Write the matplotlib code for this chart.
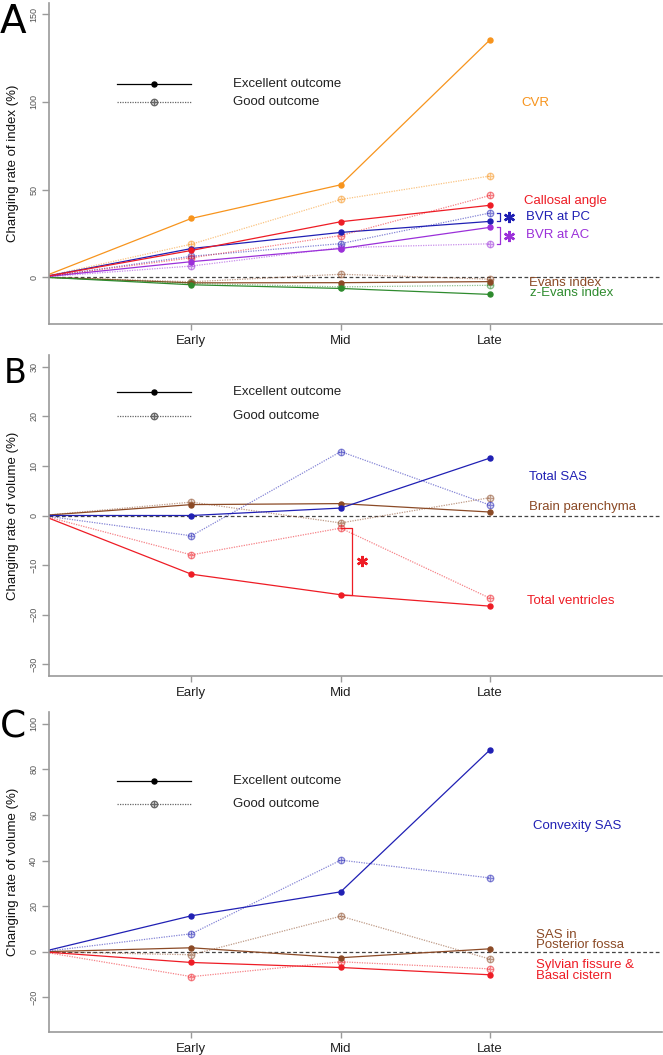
import matplotlib
matplotlib.use("Agg")
import matplotlib.pyplot as plt

plt.rcParams['font.family'] = ['Liberation Sans', 'DejaVu Sans']

# ---------------- data ----------------
stages = ["Early", "Mid", "Late"]
stage_x = [1, 2, 3]
baseline_x = 0
baseline_y = 0

# Panel A : changing rate of index (%)
cvr_exc = [33.5, 52.7, 135.5]
cvr_good = [18.8, 44.3, 57.7]
callosal_exc = [15.2, 31.6, 41.0]
callosal_good = [11.0, 23.7, 46.6]
bvrpc_exc = [16.3, 25.5, 31.8]
bvrpc_good = [11.9, 19.1, 36.6]
bvrac_exc = [8.8, 16.3, 28.4]
bvrac_good = [6.3, 16.8, 19.0]
evans_exc = [-3.3, -3.2, -2.6]
evans_good = [-2.7, 1.6, -1.2]
zevans_exc = [-4.4, -6.5, -9.9]
zevans_good = [-3.6, -5.6, -4.7]

# Panel B : changing rate of volume (%)
sas_exc = [0.0, 1.5, 11.6]
sas_good = [-4.1, 12.9, 2.1]
brain_exc = [2.2, 2.4, 0.7]
brain_good = [2.7, -1.5, 3.6]
vent_exc = [-11.85, -16.0, -18.3]
vent_good = [-7.95, -2.55, -16.7]

# Panel C : changing rate of volume (%)
conv_exc = [15.8, 26.3, 88.6]
conv_good = [7.9, 40.2, 32.4]
pf_exc = [1.75, -2.6, 1.3]
pf_good = [-1.3, 15.6, -3.2]
syl_exc = [-4.7, -6.9, -10.1]
syl_good = [-10.9, -4.4, -7.5]

yticks_A = [0, 50, 100, 150]
yticks_B = [-30, -20, -10, 0, 10, 20, 30]
yticks_C = [-20, 0, 20, 40, 60, 80, 100]

ylabel_A = "Changing rate of index (%)"
ylabel_BC = "Changing rate of volume (%)"

# ---------------- styles ----------------
ORANGE = '#F7941D'
RED = '#EE1C25'
BLUE = '#2020B4'
PURPLE = '#9B30D9'
BROWN = '#8B4A26'
GREEN = '#2E8B2E'
AXGRAY = '#9a9a9a'
GOOD_ALPHA = 0.55

W, H = 663, 1055
fig = plt.figure(figsize=(W / 100, H / 100), dpi=100)

LEFT_PX, RIGHT_PX = 49.3, 662


def add_ax(top_px, bottom_px):
    return fig.add_axes([LEFT_PX / W, 1 - bottom_px / H,
                         (RIGHT_PX - LEFT_PX) / W, (bottom_px - top_px) / H])


def style_ax(ax, ylim, yticks, ylabel):
    ax.set_xlim(0.048, 4.152)
    ax.set_ylim(*ylim)
    for s in ('top', 'right'):
        ax.spines[s].set_visible(False)
    for s in ('left', 'bottom'):
        ax.spines[s].set_color(AXGRAY)
        ax.spines[s].set_linewidth(1.2)
    ax.set_xticks(stage_x)
    ax.set_xticklabels(stages)
    ax.set_yticks(yticks)
    ax.tick_params(axis='x', length=4, width=1, color=AXGRAY, labelsize=9.5,
                   pad=4, labelcolor='#222222')
    ax.tick_params(axis='y', length=5, width=1, color=AXGRAY, labelsize=6.5,
                   pad=3, labelcolor='#555555', labelrotation=90)
    for lab in ax.get_yticklabels():
        lab.set_va('center')
    ax.set_ylabel(ylabel, fontsize=9.5, color='#111111')
    ax.yaxis.set_label_coords(-0.049, 0.5)
    ax.axhline(0, color='#444444', lw=0.9, ls=(0, (3, 2)), zorder=1)


def plot_series(ax, exc, good, color):
    xs = [baseline_x] + stage_x
    ax.plot(xs, [baseline_y] + good, color=color, alpha=GOOD_ALPHA, lw=0.9,
            ls=(0, (1, 1)), zorder=2)
    ax.plot(stage_x, good, 'o', mfc='none', mec=color, alpha=GOOD_ALPHA,
            ms=4.6, mew=1.0, zorder=3)
    ax.plot(stage_x, good, '+', color=color, alpha=GOOD_ALPHA, ms=5.0,
            mew=1.0, zorder=3)
    ax.plot(xs, [baseline_y] + exc, color=color, lw=0.9, zorder=2)
    ax.plot(stage_x, exc, 'o', color=color, mec=color, ms=3.6, zorder=4)


def legend(ax, y_exc, y_good):
    ax.plot([0.5, 1.0], [y_exc, y_exc], color='black', lw=0.9)
    ax.plot([0.75], [y_exc], 'o', color='black', ms=3.6)
    ax.plot([0.5, 1.0], [y_good, y_good], color='#666666', lw=0.9, ls=(0, (1, 1)))
    ax.plot([0.75], [y_good], 'o', mfc='none', mec='#666666', ms=4.6, mew=1.0)
    ax.plot([0.75], [y_good], '+', color='#666666', ms=5.0, mew=1.0)
    ax.text(1.28, y_exc, "Excellent outcome", va='center', ha='left',
            fontsize=9.5, color='#222222')
    ax.text(1.28, y_good, "Good outcome", va='center', ha='left',
            fontsize=9.5, color='#222222')


def labels(ax, items, linespacing=0.85):
    for txt, x, y, c in items:
        ax.text(x, y, txt, color=c, fontsize=9.5, va='center', ha='left',
                linespacing=linespacing)


def star(ax, x, y, color):
    ax.plot([x], [y], marker=(6, 2, 0), color=color, ms=8, mew=1.7)


def bracket(ax, x, y1, y2, color, arm=0.02):
    ax.plot([x - arm, x, x, x - arm], [y1, y1, y2, y2], color=color, lw=0.9)


# ---------------- Panel A ----------------
axA = add_ax(2.5, 324)
style_ax(axA, (-26.8, 156.8), yticks_A, ylabel_A)
plot_series(axA, evans_exc, evans_good, BROWN)
plot_series(axA, zevans_exc, zevans_good, GREEN)
plot_series(axA, cvr_exc, cvr_good, ORANGE)
plot_series(axA, bvrac_exc, bvrac_good, PURPLE)
plot_series(axA, bvrpc_exc, bvrpc_good, BLUE)
plot_series(axA, callosal_exc, callosal_good, RED)
legend(axA, 110, 100)
labels(axA, [("CVR", 3.21, 99.5, ORANGE),
             ("Callosal angle", 3.23, 43.2, RED),
             ("BVR at PC", 3.24, 34.2, BLUE),
             ("BVR at AC", 3.24, 24.3, PURPLE),
             ("Evans index", 3.26, -3.3, BROWN),
             ("z-Evans index", 3.27, -9.2, GREEN)])
bracket(axA, 3.07, bvrpc_good[-1], bvrpc_exc[-1], BLUE)
star(axA, 3.125, (bvrpc_good[-1] + bvrpc_exc[-1]) / 2, BLUE)
bracket(axA, 3.07, bvrac_exc[-1], bvrac_good[-1], PURPLE)
star(axA, 3.125, (bvrac_exc[-1] + bvrac_good[-1]) / 2, PURPLE)

# ---------------- Panel B ----------------
axB = add_ax(355, 676)
style_ax(axB, (-32.4, 32.4), yticks_B, ylabel_BC)
plot_series(axB, brain_exc, brain_good, BROWN)
plot_series(axB, sas_exc, sas_good, BLUE)
plot_series(axB, vent_exc, vent_good, RED)
legend(axB, 25, 20)
labels(axB, [("Total SAS", 3.26, 7.7, BLUE),
             ("Brain parenchyma", 3.26, 1.7, BROWN),
             ("Total ventricles", 3.25, -17.2, RED)])
axB.plot([stage_x[1], stage_x[1] + 0.077, stage_x[1] + 0.077, stage_x[1]],
         [vent_good[1], vent_good[1], vent_exc[1], vent_exc[1]], color=RED, lw=0.9)
star(axB, stage_x[1] + 0.145, (vent_good[1] + vent_exc[1]) / 2, RED)

# ---------------- Panel C ----------------
axC = add_ax(712, 1032)
style_ax(axC, (-35.2, 105.2), yticks_C, ylabel_BC)
plot_series(axC, pf_exc, pf_good, BROWN)
plot_series(axC, syl_exc, syl_good, RED)
plot_series(axC, conv_exc, conv_good, BLUE)
legend(axC, 75, 65)
labels(axC, [("Convexity SAS", 3.29, 55.2, BLUE),
             ("SAS in\nPosterior fossa", 3.31, 5.1, BROWN),
             ("Sylvian fissure &\nBasal cistern", 3.31, -8.3, RED)])

# ---------------- panel letters ----------------
for letter, xpx, base_px, fs in (("A", 0, 33, 28), ("B", 4, 383, 24), ("C", 0, 737, 27)):
    fig.text(xpx / W, 1 - base_px / H, letter, fontsize=fs, ha='left',
             va='baseline', family=['DejaVu Sans'], color='black')

fig.savefig("out.png", dpi=100)
